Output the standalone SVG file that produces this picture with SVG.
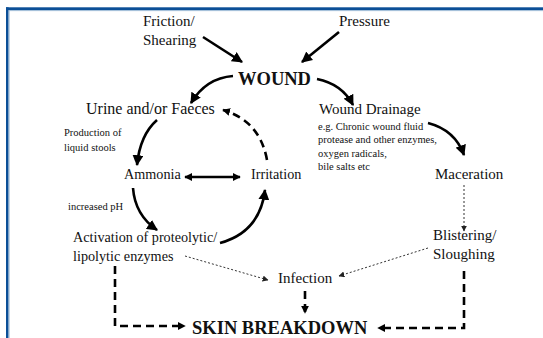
<svg xmlns="http://www.w3.org/2000/svg" width="543" height="338" viewBox="0 0 543 338">
<defs>
<style>
text{font-family:"Liberation Serif","Times New Roman","DejaVu Serif",serif;fill:#111}
.r{font-size:15px}
.m{font-size:14.2px}
.u{font-size:16px}
.s{font-size:10.5px}
.b{font-size:18.5px;font-weight:bold}
.solid{fill:none;stroke:#000;stroke-width:2.6}
.dash{fill:none;stroke:#000;stroke-width:2.6;stroke-dasharray:8 5}
.dot{fill:none;stroke:#333;stroke-width:1;stroke-dasharray:2 2}
</style>
<marker id="ah" viewBox="0 0 10 10" refX="9" refY="5" markerWidth="4.2" markerHeight="4.2" orient="auto" markerUnits="strokeWidth"><path d="M0,0 L10,5 L0,10 z" fill="#000"/></marker>
<marker id="ahs" viewBox="0 0 10 10" refX="9" refY="5" markerWidth="3.2" markerHeight="3.2" orient="auto-start-reverse" markerUnits="strokeWidth"><path d="M0,0 L10,5 L0,10 z" fill="#000"/></marker>
<marker id="ahd" viewBox="0 0 10 10" refX="9" refY="5" markerWidth="3" markerHeight="3" orient="auto" markerUnits="strokeWidth"><path d="M0,0 L10,5 L0,10 z" fill="#000"/></marker>
<marker id="ahdot" viewBox="0 0 10 10" refX="9" refY="5" markerWidth="6" markerHeight="6" orient="auto" markerUnits="strokeWidth"><path d="M0,0 L10,5 L0,10 z" fill="#222"/></marker>
</defs>
<rect width="543" height="338" fill="#fff"/>
<g id="frame">
<rect x="6" y="7.3" width="537" height="2.8" fill="#0b4f97"/>
<rect x="8.5" y="10.1" width="534.5" height="1" fill="#9fbcd8"/>
<rect x="6" y="7.3" width="2.6" height="331" fill="#0b4f97"/>
<rect x="8.6" y="10.1" width="1" height="328" fill="#9fbcd8"/>
</g>
<g id="connectors">
<path class="solid" marker-end="url(#ah)" d="M203,37 L242,62"/>
<path class="solid" marker-end="url(#ah)" d="M339,32 L302,62"/>
<path class="solid" marker-end="url(#ah)" d="M233,76 Q206,78 191,103"/>
<path class="solid" marker-end="url(#ah)" d="M317,79 Q342,84 353,105"/>
<path class="solid" marker-end="url(#ah)" d="M157,120 Q140,135 137,165"/>
<path class="solid" marker-end="url(#ah)" d="M133,188 Q135,215 157,230"/>
<path class="solid" marker-end="url(#ah)" d="M220,243 Q260,232 265,190"/>
<path class="dash" marker-end="url(#ahd)" d="M267,160 Q260,121 223,110"/>
<path class="solid" marker-end="url(#ah)" d="M428,123 Q455,130 464,155"/>
<path class="solid" marker-start="url(#ahs)" marker-end="url(#ahs)" d="M185,177 L240,177"/>
<path class="dot" marker-end="url(#ahdot)" d="M464,185 L464,231"/>
<path class="dot" marker-end="url(#ahdot)" d="M428,248 L339,276"/>
<path class="dot" marker-end="url(#ahdot)" d="M185,256 L268,280"/>
<path class="dash" marker-end="url(#ahd)" d="M305,291 L305,313"/>
<path class="dash" marker-end="url(#ahd)" d="M115,266 L115,326 L185,326"/>
<path class="dash" marker-end="url(#ahd)" d="M464,271 L464,328 L378,328"/>
</g>
<g id="friction"><text class="r" x="143" y="26">Friction/</text><text class="r" x="143" y="45">Shearing</text></g>
<g id="pressure"><text class="r" x="339" y="26">Pressure</text></g>
<g id="wound"><text class="b" x="238" y="85">WOUND</text></g>
<g id="urine"><text class="u" x="86" y="114">Urine and/or Faeces</text></g>
<g id="production"><text class="s" x="64" y="136">Production of</text><text class="s" x="64" y="151">liquid stools</text></g>
<g id="ammonia"><text class="m" x="124" y="179">Ammonia</text></g>
<g id="irritation"><text class="m" x="251" y="179">Irritation</text></g>
<g id="ph"><text class="s" x="68" y="210">increased pH</text></g>
<g id="activation"><text class="m" x="73" y="242">Activation of proteolytic/</text><text class="m" x="73" y="261">lipolytic enzymes</text></g>
<g id="drainage"><text class="r" x="319" y="114">Wound Drainage</text>
<text class="s" x="318" y="130">e.g. Chronic wound fluid</text>
<text class="s" x="318" y="143">protease and other enzymes,</text>
<text class="s" x="318" y="157">oxygen radicals,</text>
<text class="s" x="318" y="170">bile salts etc</text></g>
<g id="maceration"><text class="r" x="435" y="179">Maceration</text></g>
<g id="blistering"><text class="r" x="433" y="240">Blistering/</text><text class="r" x="433" y="259">Sloughing</text></g>
<g id="infection"><text class="r" x="278" y="283">Infection</text></g>
<g id="skin"><text class="b" x="192" y="334">SKIN BREAKDOWN</text></g>
</svg>
